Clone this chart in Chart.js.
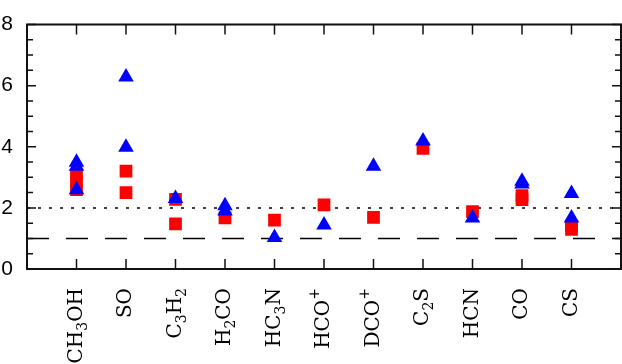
<!DOCTYPE html>
<html>
<head>
<meta charset="utf-8">
<script src="https://cdn.jsdelivr.net/npm/chart.js@4/dist/chart.umd.min.js"></script>
<style>
  body { margin: 0; background: #fff; }
</style>
</head>
<body>
<canvas id="ratioChart" width="622" height="364"></canvas>
<script>
const molecules = ["CH₃OH", "SO", "C₃H₂", "H₂CO", "HC₃N", "HCO⁺", "DCO⁺", "C₂S", "HCN", "CO", "CS"];
// red squares, several values per molecule
const squareValues = [[3.1, 2.85, 2.6], [3.2, 2.5], [2.28, 1.48], [1.67], [1.6], [2.1], [1.69], [3.95], [1.88], [2.4, 2.27], [1.4, 1.3]];
// blue triangles
const triangleValues = [[3.49, 3.36, 2.59], [6.28, 3.98], [2.31], [2.07, 1.9], [1.03], [1.44], [3.36], [4.19], [1.67], [2.87, 2.78], [2.47, 1.67]];
const yTicks = [0, 2, 4, 6, 8];
const dottedLevel = 2;
const dashedLevel = 1;

function toPoints(values) {
    const pts = [];
    values.forEach((list, i) => {
        list.forEach(v => pts.push({ x: i + 1, y: v }));
    });
    return pts;
}

const xMax = molecules.length + 1;
const subDigits = "₀₁₂₃₄₅₆₇₈₉";

// split "C₃H₂" into pieces: normal, subscript, superscript
function splitFormula(label) {
    const parts = [];
    for (const ch of label) {
        let kind = "n", t = ch;
        const d = subDigits.indexOf(ch);
        if (d >= 0) { kind = "sub"; t = String(d); }
        if (ch === "⁺") { kind = "sup"; t = "+"; }
        const last = parts[parts.length - 1];
        if (last && last.kind === kind) last.text += t;
        else parts.push({ kind: kind, text: t });
    }
    return parts;
}

const fontMain = "20px 'DejaVu Serif'";
const fontSmall = "14px 'DejaVu Serif'";

// rotated molecule names with real subscripts
const labelPlugin = {
    id: "formulaLabels",
    afterDraw(chart) {
        const ctx = chart.ctx;
        const xs = chart.scales.x;
        const top = chart.chartArea.bottom + 19;
        ctx.save();
        ctx.fillStyle = "#000";
        ctx.textBaseline = "alphabetic";
        ctx.textAlign = "left";
        molecules.forEach((name, i) => {
            const parts = splitFormula(name);
            let total = 0;
            parts.forEach(p => {
                ctx.font = p.kind === "n" ? fontMain : fontSmall;
                p.w = ctx.measureText(p.text).width;
                total += p.w;
            });
            ctx.save();
            ctx.translate(xs.getPixelForValue(i + 1) + 5, top);
            ctx.rotate(-Math.PI / 2);
            let pos = -total;
            parts.forEach(p => {
                ctx.font = p.kind === "n" ? fontMain : fontSmall;
                const shift = p.kind === "sub" ? 5 : (p.kind === "sup" ? -10 : 0);
                ctx.fillText(p.text, pos, shift);
                pos += p.w;
            });
            ctx.restore();
        });
        ctx.restore();
    }
};

// frame with inward ticks on all four sides
const framePlugin = {
    id: "frame",
    afterDraw(chart) {
        const ctx = chart.ctx;
        const a = chart.chartArea;
        const xs = chart.scales.x;
        const ys = chart.scales.y;
        ctx.save();
        ctx.strokeStyle = "#111";
        ctx.lineWidth = 2;
        ctx.strokeRect(a.left, a.top, a.right - a.left, a.bottom - a.top);
        ctx.lineWidth = 1.5;
        ctx.beginPath();
        for (let v = 0; v <= 8; v += 0.5) {
            const y = ys.getPixelForValue(v);
            const len = yTicks.includes(v) ? 9 : 6;
            ctx.moveTo(a.left, y);
            ctx.lineTo(a.left + len, y);
            ctx.moveTo(a.right, y);
            ctx.lineTo(a.right - len, y);
        }
        for (let i = 1; i <= molecules.length; i++) {
            const x = xs.getPixelForValue(i);
            ctx.moveTo(x, a.bottom);
            ctx.lineTo(x, a.bottom - 10);
            ctx.moveTo(x, a.top);
            ctx.lineTo(x, a.top + 10);
        }
        ctx.stroke();
        ctx.restore();
    }
};

new Chart("ratioChart", {
    type: "scatter",
    data: {
        datasets: [{
            data: toPoints(triangleValues),
            pointStyle: "triangle",
            pointRadius: 9,
            pointBorderWidth: 0,
            backgroundColor: "#0000ff",
            borderColor: "#0000ff",
            order: 0
        }, {
            data: toPoints(squareValues),
            pointStyle: "rect",
            pointRadius: 9,
            pointBorderWidth: 0,
            backgroundColor: "#ff0000",
            borderColor: "#ff0000",
            order: 1
        }, {
            data: [{ x: 0, y: dottedLevel }, { x: xMax, y: dottedLevel }],
            showLine: true,
            pointRadius: 0,
            borderColor: "#000",
            borderWidth: 1.5,
            borderDash: [3, 8],
            order: 2
        }, {
            data: [{ x: 0, y: dashedLevel }, { x: xMax, y: dashedLevel }],
            showLine: true,
            pointRadius: 0,
            borderColor: "#000",
            borderWidth: 1.5,
            borderDash: [22, 17],
            order: 2
        }]
    },
    options: {
        responsive: false,
        animation: false,
        devicePixelRatio: 1,
        layout: { autoPadding: false, padding: { top: 10, right: 1, left: 0, bottom: 0 } },
        plugins: {
            legend: { display: false },
            tooltip: { enabled: false }
        },
        scales: {
            x: {
                type: "linear",
                min: 0,
                max: xMax,
                grid: { display: false, drawTicks: false },
                border: { display: false },
                ticks: { display: false, stepSize: 1 },
                afterFit: s => {
                    s.height = 95;
                    s.paddingLeft = 0;
                    s.paddingRight = 0;
                }
            },
            y: {
                min: 0,
                max: 8,
                grid: { display: false, drawTicks: false },
                border: { display: false },
                ticks: {
                    stepSize: 2,
                    padding: 14,
                    color: "#000",
                    font: { family: "Liberation Sans", size: 21, lineHeight: 1 }
                },
                afterFit: s => { s.width = 27; }
            }
        }
    },
    plugins: [framePlugin, labelPlugin]
});
</script>
</body>
</html>
